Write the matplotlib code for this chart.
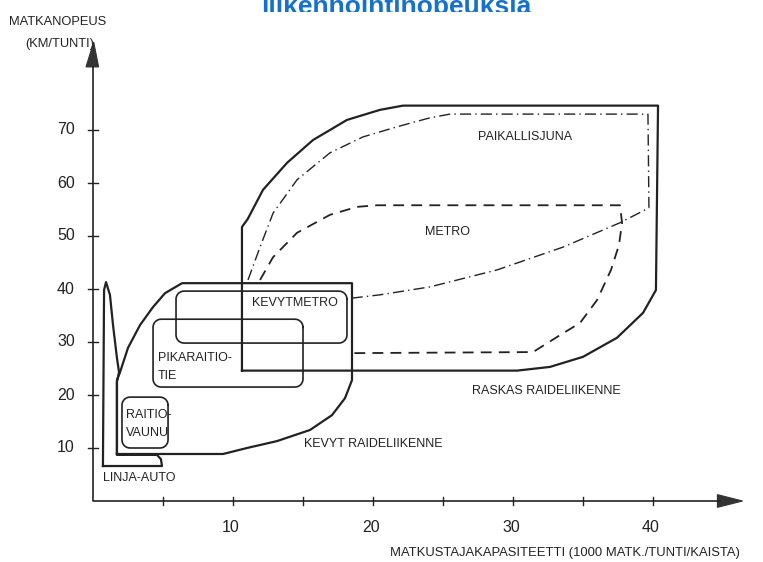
import matplotlib
matplotlib.use("Agg")
import matplotlib.pyplot as plt
from matplotlib.patches import Rectangle
import numpy as np

plt.rcParams['font.family'] = ['Liberation Sans', 'DejaVu Sans']

# ---- data (x: capacity, 1000 passengers/hour/lane ; y: travel speed km/h) ----
title = "liikennointinopeuksia"
ylabel_lines = ["MATKANOPEUS", "(KM/TUNTI)"]
xlabel = "MATKUSTAJAKAPASITEETTI (1000 MATK./TUNTI/KAISTA)"
xticks = [10, 20, 30, 40]
yticks = [10, 20, 30, 40, 50, 60, 70]
xminor = [5, 15, 25, 35]

linja_auto_x = [0.71, 0.79, 0.93, 1.21, 1.43, 1.71, 1.86, 1.71, 1.71, 4.57, 4.85, 4.93, 0.71]
linja_auto_y = [6.6, 39.8, 41.3, 38.9, 33.2, 27.0, 24.3, 22.5, 8.7, 8.7, 7.9, 6.6, 6.6]

kevyt_x = [1.71, 1.71, 1.93, 2.5, 3.36, 4.29, 5.14, 6.36, 18.5, 18.5, 18.0, 17.07, 15.5, 13.14, 11.0, 9.29, 1.71]
kevyt_y = [8.87, 22.8, 24.3, 28.9, 33.2, 36.6, 39.2, 41.1, 41.1, 22.8, 19.4, 16.2, 13.4, 11.3, 10.0, 8.87, 8.87]

raskas_x = [10.64, 10.64, 11.05, 12.14, 13.86, 15.71, 18.14, 20.5, 22.14, 40.36, 40.21, 39.29, 37.43, 35.0, 32.64, 30.29, 10.64]
raskas_y = [24.6, 51.7, 53.2, 58.7, 63.8, 68.1, 71.9, 73.8, 74.6, 74.6, 39.8, 35.5, 30.8, 27.2, 25.3, 24.6, 24.6]

paikallis_x = [11.07, 11.93, 12.86, 14.57, 16.93, 19.29, 21.71, 24.07, 25.5, 39.64, 39.71, 37.64, 33.57, 28.86, 24.07, 20.5, 18.57]
paikallis_y = [41.7, 47.9, 54.3, 60.6, 65.7, 68.7, 70.6, 72.3, 73.0, 73.0, 55.3, 52.5, 47.9, 43.6, 40.4, 38.9, 38.3]

metro_x = [11.93, 12.86, 14.57, 16.93, 18.86, 20.29, 37.64, 37.79, 37.57, 37.0, 36.0, 34.79, 33.36, 31.43, 18.57]
metro_y = [41.7, 46.0, 50.6, 54.0, 55.5, 55.8, 55.8, 52.5, 48.3, 43.6, 37.9, 33.6, 31.3, 28.1, 27.9]

# rounded boxes: (x0, x1, y0, y1)
kevytmetro_box = (5.93, 18.14, 29.8, 39.6)
pikaraitiotie_box = (4.29, 15.0, 21.5, 34.3)
raitiovaunu_box = (2.07, 5.36, 10.0, 19.6)

# ---- figure ----
W, H, DPI = 763, 562, 100
fig = plt.figure(figsize=(W / DPI, H / DPI), dpi=DPI)
fig.patch.set_facecolor('white')
ax = fig.add_axes([0, 0, 1, 1])
PX_X, PX_Y = 14.0, 5.3       # pixels per data unit
X0, Y0 = 93, 501             # pixel position of origin
ax.set_xlim(-X0 / PX_X, (W - X0) / PX_X)
ax.set_ylim(-(H - Y0) / PX_Y, Y0 / PX_Y)
ax.axis('off')

ink = '#222222'

def rounded_box(x0, x1, y0, y1, r_px=8, n=8):
    rx, ry = r_px / PX_X, r_px / PX_Y
    pts = []
    corners = [(x1 - rx, y1 - ry, 0), (x0 + rx, y1 - ry, 90), (x0 + rx, y0 + ry, 180), (x1 - rx, y0 + ry, 270)]
    for cx, cy, a0 in corners:
        for t in np.linspace(np.radians(a0), np.radians(a0 + 90), n):
            pts.append((cx + rx * np.cos(t), cy + ry * np.sin(t)))
    pts.append(pts[0])
    pts = np.array(pts)
    return pts[:, 0], pts[:, 1]

# axes
ax.plot([0, 0, 44.8], [81.9, 0, 0], color=ink, lw=1.2)
ax.fill([0 - 0.5, 0.4, 0 + 0.05], [81.9, 81.9, 86.6], color='#333333', lw=0.8)
ax.fill([44.6, 44.6, 46.4], [-1.2, 1.2, 0], color='#333333', lw=0.8)
for yt in yticks:
    ax.plot([-0.35, 0.35], [yt, yt], color=ink, lw=1.0)
    ax.text(-1.3, yt, str(yt), ha='right', va='center', fontsize=11.5, color=ink)
for xt in xticks + xminor:
    ax.plot([xt, xt], [-0.8, 0.8], color=ink, lw=1.0)
for xt in xticks:
    ax.text(xt - 0.15, -5.0, str(xt), ha='center', va='center', fontsize=11.5, color=ink)

ax.text(-2.5, 90.3, ylabel_lines[0], ha='center', va='center', fontsize=9.3, color=ink)
ax.text(-2.35, 86.2, ylabel_lines[1], ha='center', va='center', fontsize=9.3, color=ink)
ax.text(33.7, -9.9, xlabel, ha='center', va='center', fontsize=9.4, color=ink)

# title (its lower part is hidden behind the chart image, as in the reference)
ax.text((396 - X0) / PX_X, (Y0 - 14) / PX_Y, title, ha='center', va='baseline',
        fontsize=19, fontweight='bold', color='#1672c9', zorder=1)
ax.add_patch(Rectangle(((240 - X0) / PX_X, (Y0 - 32) / PX_Y), 320 / PX_X, 20 / PX_Y,
                       facecolor='white', edgecolor='none', zorder=2))

# shapes
ax.plot(raskas_x, raskas_y, color=ink, lw=1.6)
ax.plot(kevyt_x, kevyt_y, color=ink, lw=1.6)
ax.plot(linja_auto_x, linja_auto_y, color=ink, lw=1.6)
ax.plot(paikallis_x, paikallis_y, color=ink, lw=1.0, dashes=(8, 3, 1, 3))
ax.plot(metro_x, metro_y, color=ink, lw=1.3, dashes=(6, 4))
for box in (kevytmetro_box, pikaraitiotie_box, raitiovaunu_box):
    bx, by = rounded_box(*box)
    ax.plot(bx, by, color=ink, lw=1.2)

# labels
fs = 9
ax.text(14.43, 37.3, "KEVYTMETRO", ha='center', va='center', fontsize=fs, color=ink)
ax.text(4.64, 26.9, "PIKARAITIO-", ha='left', va='center', fontsize=fs, color=ink)
ax.text(4.64, 23.6, "TIE", ha='left', va='center', fontsize=fs, color=ink)
ax.text(2.36, 16.2, "RAITIO-", ha='left', va='center', fontsize=fs, color=ink)
ax.text(2.36, 12.8, "VAUNU", ha='left', va='center', fontsize=fs, color=ink)
ax.text(0.71, 4.3, "LINJA-AUTO", ha='left', va='center', fontsize=fs, color=ink)
ax.text(20.0, 10.8, "KEVYT RAIDELIIKENNE", ha='center', va='center', fontsize=fs, color=ink)
ax.text(32.4, 20.8, "RASKAS RAIDELIIKENNE", ha='center', va='center', fontsize=fs, color=ink)
ax.text(30.86, 68.7, "PAIKALLISJUNA", ha='center', va='center', fontsize=fs, color=ink)
ax.text(25.3, 50.8, "METRO", ha='center', va='center', fontsize=fs, color=ink)

fig.savefig("out.png", dpi=DPI, facecolor='white')
